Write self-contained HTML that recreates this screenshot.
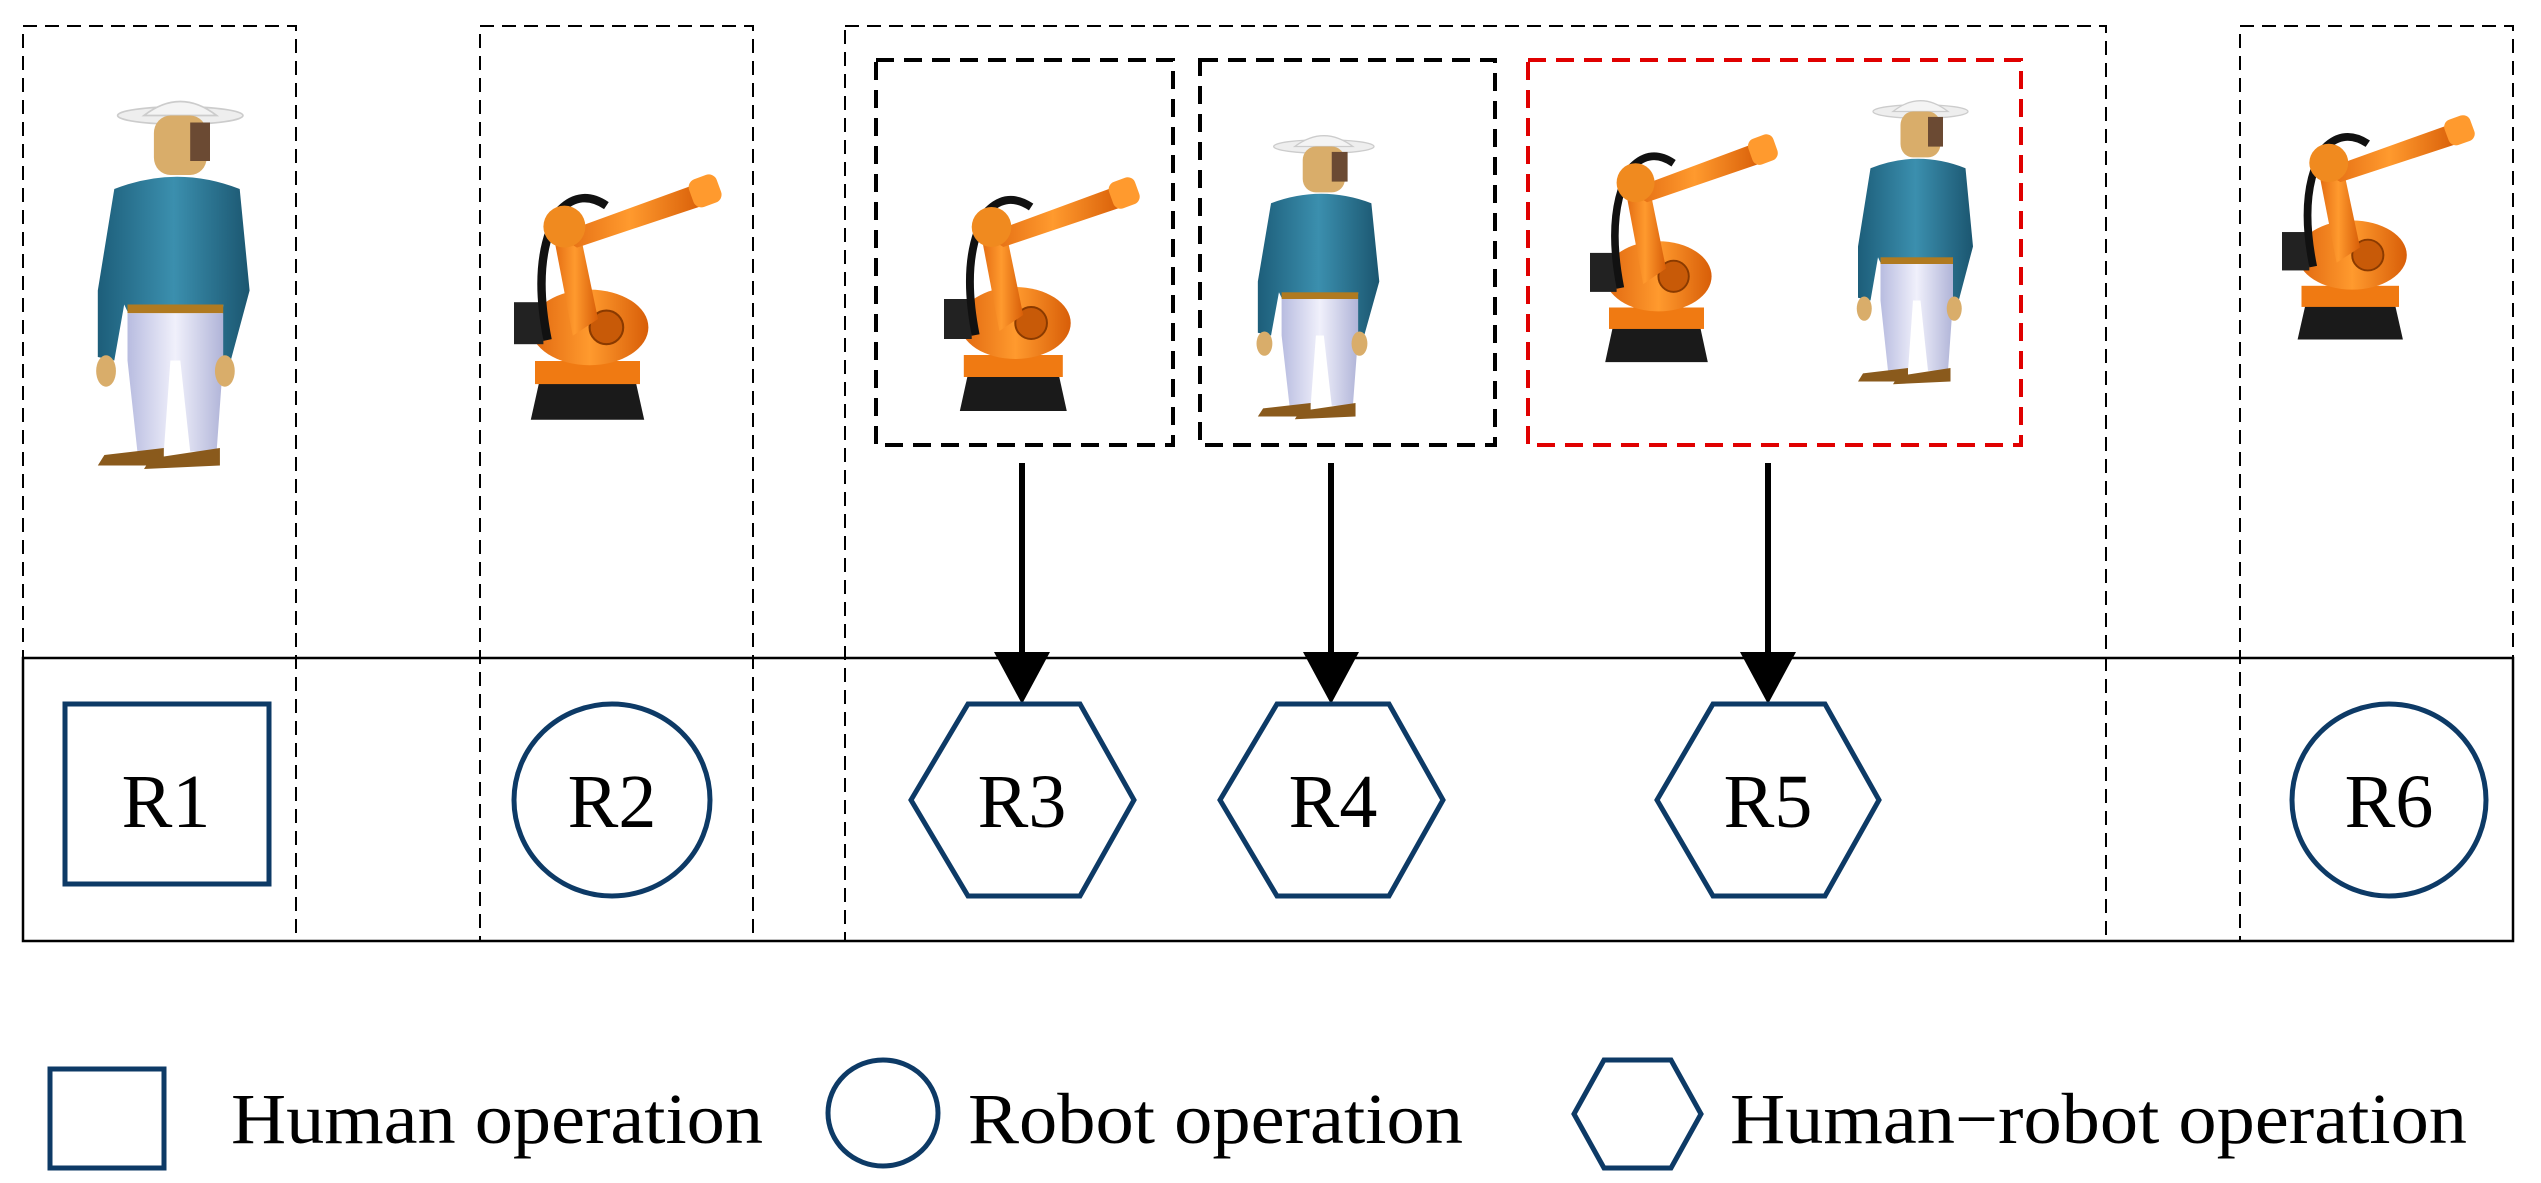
<!DOCTYPE html>
<html><head><meta charset="utf-8"><style>html,body{margin:0;padding:0;background:#fff}svg{display:block}</style></head>
<body>
<svg width="2541" height="1183" viewBox="0 0 2541 1183" xmlns="http://www.w3.org/2000/svg">
<defs>
<marker id="ah" markerWidth="10" markerHeight="10" refX="5" refY="8" orient="auto" markerUnits="userSpaceOnUse"></marker>
<linearGradient id="shirt" x1="0" x2="1"><stop offset="0" stop-color="#1d5e7a"/><stop offset="0.5" stop-color="#3b8fae"/><stop offset="1" stop-color="#1b5670"/></linearGradient>
<linearGradient id="pants" x1="0" x2="1"><stop offset="0" stop-color="#b8bce0"/><stop offset="0.5" stop-color="#f0f0fb"/><stop offset="1" stop-color="#b0b4d8"/></linearGradient>
<linearGradient id="org" x1="0" x2="1"><stop offset="0" stop-color="#e0670f"/><stop offset="0.5" stop-color="#ff9a2e"/><stop offset="1" stop-color="#d85e08"/></linearGradient>
<g id="human">
  <ellipse cx="62" cy="10" rx="38" ry="5" fill="#eee" stroke="#ccc"/>
  <path d="M40 10 Q62 -6 84 10 Z" fill="#f4f4f4" stroke="#ccc"/>
  <rect x="46" y="10" width="32" height="34" rx="10" fill="#d9ad6a"/>
  <rect x="68" y="14" width="12" height="22" fill="#6b4a33"/>
  <path d="M22 52 Q60 38 98 52 L104 110 L92 152 L86 150 L88 118 L86 122 L30 122 L28 118 L22 150 L12 148 L12 110 Z" fill="url(#shirt)"/>
  <rect x="30" y="118" width="58" height="5" fill="#b07a20"/>
  <path d="M30 123 L88 123 L88 150 L84 202 L68 202 L62 150 L56 150 L52 202 L36 202 L30 150 Z" fill="url(#pants)"/>
  <ellipse cx="17" cy="156" rx="6" ry="9" fill="#d9ad6a"/>
  <ellipse cx="89" cy="156" rx="6" ry="9" fill="#d9ad6a"/>
  <path d="M16 204 L52 200 L52 210 L12 210 Z" fill="#8a5a1c"/>
  <path d="M44 206 L86 200 L86 210 L40 212 Z" fill="#8a5a1c"/>
</g>
<g id="robot">
  <path d="M8 118 L12 100 L58 100 L62 118 Z" fill="#1a1a1a"/>
  <rect x="10" y="90" width="50" height="11" fill="#f07a12"/>
  <ellipse cx="36" cy="74" rx="28" ry="18" fill="url(#org)"/>
  <rect x="0" y="62" width="14" height="20" fill="#222"/>
  <circle cx="44" cy="74" r="8" fill="#c85a08" stroke="#8a3a00"/>
  <path d="M28 78 L18 26 L30 22 L40 70 Z" fill="url(#org)"/>
  <path d="M16 80 Q8 40 22 18 Q32 8 44 16" fill="none" stroke="#111" stroke-width="4"/>
  <path d="M20 30 L86 6 L90 16 L30 36 Z" fill="url(#org)"/>
  <circle cx="24" cy="26" r="10" fill="#f08a1f"/>
  <rect x="84" y="2" width="14" height="14" rx="4" fill="#ff9a2e" transform="rotate(-20 91 9)"/>
</g>
</defs>
<g fill="none" stroke="#000" stroke-width="2" stroke-dasharray="14,8">
  <rect x="23" y="26" width="273" height="915"/>
  <rect x="480" y="26" width="273" height="915"/>
  <rect x="845" y="26" width="1261" height="915"/>
  <rect x="2240" y="26" width="273" height="915"/>
</g>
<rect x="23" y="658" width="2490" height="283" fill="none" stroke="#000" stroke-width="2.5"/>
<g fill="none" stroke-width="4" stroke-dasharray="18,10">
  <rect x="876" y="60" width="297" height="385" stroke="#000"/>
  <rect x="1200" y="60" width="295" height="385" stroke="#000"/>
  <rect x="1528" y="60" width="493" height="385" stroke="#e00000"/>
</g>
<use href="#human" transform="translate(78 98) scale(1.65 1.75)"/>
<use href="#human" transform="translate(1242 133) scale(1.32 1.35)"/>
<use href="#human" transform="translate(1843 98) scale(1.25 1.35)"/>
<use href="#robot" transform="translate(514 172) scale(2.1 2.1)"/>
<use href="#robot" transform="translate(944 175) scale(1.98 2.0)"/>
<use href="#robot" transform="translate(1590 132) scale(1.9 1.95)"/>
<use href="#robot" transform="translate(2282 113) scale(1.95 1.92)"/>
<g stroke="#000" stroke-width="6">
  <line x1="1022" y1="463" x2="1022" y2="660"/>
  <line x1="1331" y1="463" x2="1331" y2="660"/>
  <line x1="1768" y1="463" x2="1768" y2="660"/>
</g>
<g fill="#000">
  <polygon points="994,652 1050,652 1022,704"/>
  <polygon points="1303,652 1359,652 1331,704"/>
  <polygon points="1740,652 1796,652 1768,704"/>
</g>
<g fill="none" stroke="#0d3a66" stroke-width="5">
  <rect x="65" y="704" width="204" height="180"/>
  <ellipse cx="612" cy="800" rx="98" ry="96"/>
  <polygon points="911,800 968,704 1080,704 1134,800 1080,896 968,896"/>
  <polygon points="1220,800 1277,704 1389,704 1443,800 1389,896 1277,896"/>
  <polygon points="1657,800 1713,704 1825,704 1879,800 1825,896 1713,896"/>
  <ellipse cx="2389" cy="800" rx="97" ry="96"/>
  <rect x="50" y="1069" width="114" height="99"/>
  <ellipse cx="883" cy="1113" rx="55" ry="53"/>
  <polygon points="1574,1114 1604,1060 1671,1060 1701,1114 1671,1168 1604,1168"/>
</g>
<g font-family="Liberation Serif, serif" font-size="76" fill="#000" text-anchor="middle">
  <text x="166" y="827">R1</text>
  <text x="612" y="827">R2</text>
  <text x="1022" y="827">R3</text>
  <text x="1333" y="827">R4</text>
  <text x="1768" y="827">R5</text>
  <text x="2389" y="827">R6</text>
</g>
<g font-family="Liberation Serif, serif" font-size="72" fill="#000">
  <text x="231" y="1143" textLength="532" lengthAdjust="spacingAndGlyphs">Human operation</text>
  <text x="968" y="1143" textLength="495" lengthAdjust="spacingAndGlyphs">Robot operation</text>
  <text x="1730" y="1143" textLength="737" lengthAdjust="spacingAndGlyphs">Human−robot operation</text>
</g>
</svg>
</body></html>
